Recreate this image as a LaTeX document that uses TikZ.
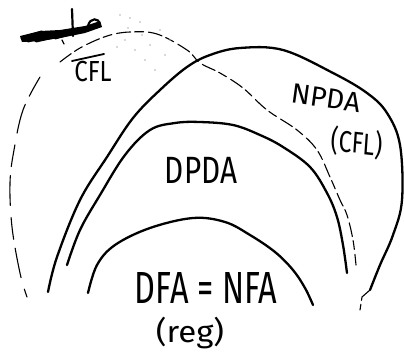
\documentclass[tikz,border=0pt]{standalone}
\usepackage{fontspec}
\setmainfont{Fira Sans}
\tikzset{
  bold/.style={line width=2.3pt, line cap=round, line join=round},
  brk/.style={line width=1.1pt, line cap=round, dash pattern=on 14pt off 4pt on 9pt off 5pt},
  lbl/.style={inner sep=0pt}
}
\begin{document}
\begin{tikzpicture}[x=1pt,y=-1pt]
\useasboundingbox (0,0) rectangle (404,359);
% outer NPDA curve
\draw[bold] plot[smooth, tension=0.6] coordinates {(48,292) (57,257) (80,200) (107,157) (133,118) (160,90) (187,67) (210,55) (240,48) (283,50) (333,73) (367,93) (387,113) (400,145) (402,200) (393,235) (380,265) (370,290)};
\draw[brk] (370,290) -- (362,297) -- (360,310);
% DPDA curve
\draw[bold] plot[smooth, tension=0.6] coordinates {(67,265) (80,230) (100,195) (125,155) (150,130) (175,123) (200,122) (233,125) (260,135) (283,147) (310,167) (327,193) (337,217) (343,245) (347,273)};
% DFA curve
\draw[bold] plot[smooth, tension=0.6] coordinates {(88,293) (97,265) (115,245) (150,228) (193,218) (225,222) (250,235) (275,252) (293,270) (305,288) (313,305)};
% CFL dashed boundary
\draw[brk] plot[smooth, tension=0.6] coordinates {(60,62) (80,48) (107,36) (130,32) (157,34) (187,50) (200,63) (220,73) (243,88) (267,110) (297,130) (317,150) (330,177) (340,200) (347,215) (353,240) (356,265)};
\draw[brk, dash pattern=on 22pt off 9pt on 30pt off 12pt] plot[smooth, tension=0.6] coordinates {(40,77) (23,110) (14,150) (10,183) (12,227) (20,273) (27,297)};
% scribbled word
\fill[line join=round] (20,36) -- (40,31) -- (60,30) -- (85,26) -- (100,21) -- (102,27) -- (85,33) -- (60,38) -- (40,41) -- (22,42) -- cycle;
\draw[line width=3pt, line cap=round, line join=round] (22,38) -- (42,32) -- (28,41) -- (60,33) -- (36,41) -- (80,31) -- (55,38) -- (98,25);
\draw[line width=2.2pt, line cap=round] (72,9) -- (73,36);
\draw[line width=2.2pt, line cap=round] (88,26) .. controls (90,17) and (99,18) .. (100,24);
\draw[line width=1.2pt, line cap=round] (62,40) -- (64,44);
% speckles
\foreach \p in {(120,15),(130,18),(140,22),(125,40),(150,45),(135,50),(160,30),(145,60),(155,70),(165,55),(128,28),(170,40),(117,47),(142,35)}
  \fill[gray!60] \p circle (0.8pt);
% labels
\draw[line width=1.8pt, line cap=round] (72,61) -- (104,54);
\node[lbl, font=\fontsize{29}{29}\selectfont, xscale=0.83] (cfl) at (93,72) {CFL};
\node[lbl, font=\fontsize{28}{28}\selectfont, rotate=-8] (npda) at (326,98) {NPDA};
\node[lbl, font=\fontsize{30}{30}\selectfont, xscale=0.78, rotate=-5] (cflb) at (357,143) {(CFL)};
\node[lbl, font=\fontsize{38}{38}\selectfont, xscale=0.78] (dpda) at (201,170) {DPDA};
\node[lbl, font=\fontsize{45}{45}\selectfont, xscale=0.72] (dfa) at (206,288) {DFA = NFA};
\node[lbl, font=\fontsize{30}{30}\selectfont, xscale=1.1] (reg) at (190,333) {(reg)};
\end{tikzpicture}
\end{document}
